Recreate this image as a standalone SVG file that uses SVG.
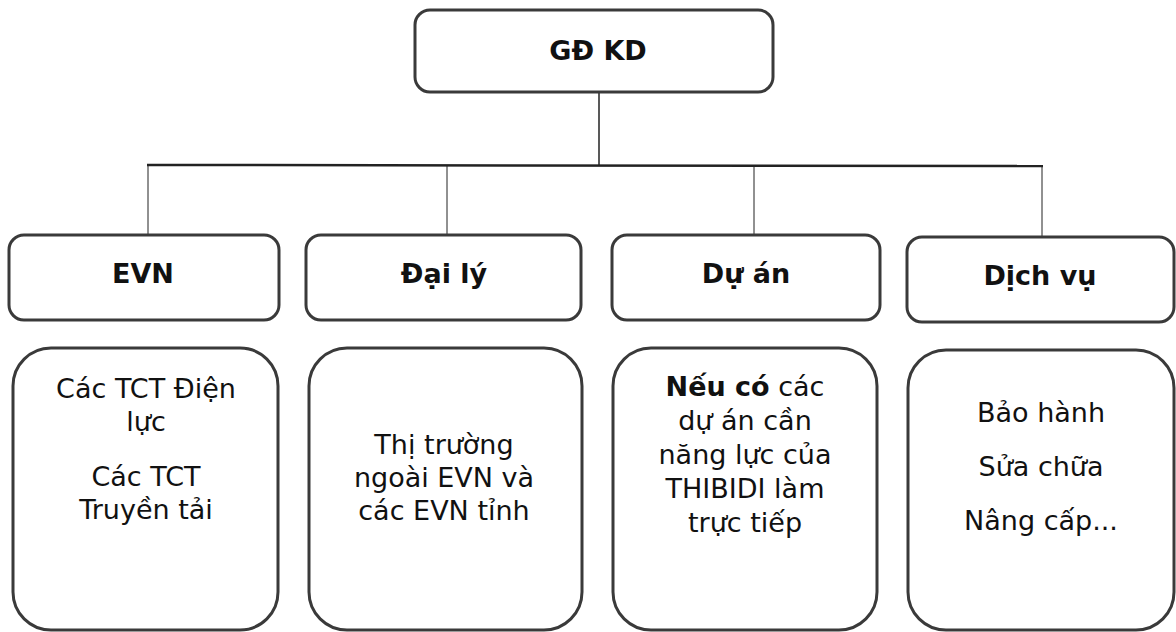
<svg xmlns="http://www.w3.org/2000/svg" width="1176" height="632" viewBox="0 0 1176 632">
<style>
.box{fill:#fff;stroke:#3a3a3a;stroke-width:3}
.hd{font-family:"DejaVu Sans",Verdana,sans-serif;font-weight:bold;font-size:27px;fill:#111;text-anchor:middle}
.tx{font-family:"DejaVu Sans",Verdana,sans-serif;font-size:27px;fill:#111;text-anchor:middle}
.ln{stroke:#222;fill:none}
</style>
<rect width="1176" height="632" fill="#fff"/>
<g id="connectors">
<line class="ln" x1="599" y1="92" x2="599" y2="166" stroke-width="1.5"/>
<line class="ln" x1="147" y1="165" x2="1043" y2="166" stroke-width="2.5" stroke="#333"/>
<line class="ln" x1="148" y1="166" x2="148" y2="235" stroke-width="1" stroke="#555"/>
<line class="ln" x1="447" y1="166" x2="447" y2="235" stroke-width="1" stroke="#555"/>
<line class="ln" x1="754" y1="166" x2="754" y2="235" stroke-width="1" stroke="#555"/>
<line class="ln" x1="1042" y1="166" x2="1042" y2="237" stroke-width="1" stroke="#555"/>
</g>
<g id="gdkd">
<rect class="box" x="415" y="10" width="358" height="82" rx="15"/>
<text class="hd" x="598" y="60" font-size="28">GĐ KD</text>
</g>
<g id="evn">
<rect class="box" x="9" y="235" width="270" height="85" rx="15"/>
<text class="hd" x="143" y="283">EVN</text>
</g>
<g id="daily">
<rect class="box" x="306" y="235" width="275" height="85" rx="15"/>
<text class="hd" x="444" y="283">Đại lý</text>
</g>
<g id="duan">
<rect class="box" x="612" y="235" width="268" height="85" rx="15"/>
<text class="hd" x="746" y="283">Dự án</text>
</g>
<g id="dichvu">
<rect class="box" x="907" y="237" width="267" height="85" rx="15"/>
<text class="hd" x="1040" y="285">Dịch vụ</text>
</g>
<g id="evn-detail">
<rect class="box" x="13" y="348" width="265" height="282" rx="38"/>
<text class="tx" x="146" y="398">Các TCT Điện</text>
<text class="tx" x="146" y="431">lực</text>
<text class="tx" x="146" y="486">Các TCT</text>
<text class="tx" x="146" y="519">Truyền tải</text>
</g>
<g id="daily-detail">
<rect class="box" x="309" y="348" width="273" height="282" rx="38"/>
<text class="tx" x="444" y="454">Thị trường</text>
<text class="tx" x="444" y="487">ngoài EVN và</text>
<text class="tx" x="444" y="520">các EVN tỉnh</text>
</g>
<g id="duan-detail">
<rect class="box" x="613" y="348" width="264" height="282" rx="38"/>
<text class="tx" x="745" y="396"><tspan font-weight="bold">Nếu có</tspan> các</text>
<text class="tx" x="745" y="430">dự án cần</text>
<text class="tx" x="745" y="464">năng lực của</text>
<text class="tx" x="745" y="498">THIBIDI làm</text>
<text class="tx" x="745" y="532">trực tiếp</text>
</g>
<g id="dichvu-detail">
<rect class="box" x="908" y="350" width="266" height="280" rx="38"/>
<text class="tx" x="1041" y="422">Bảo hành</text>
<text class="tx" x="1041" y="476">Sửa chữa</text>
<text class="tx" x="1041" y="530">Nâng cấp...</text>
</g>
</svg>
